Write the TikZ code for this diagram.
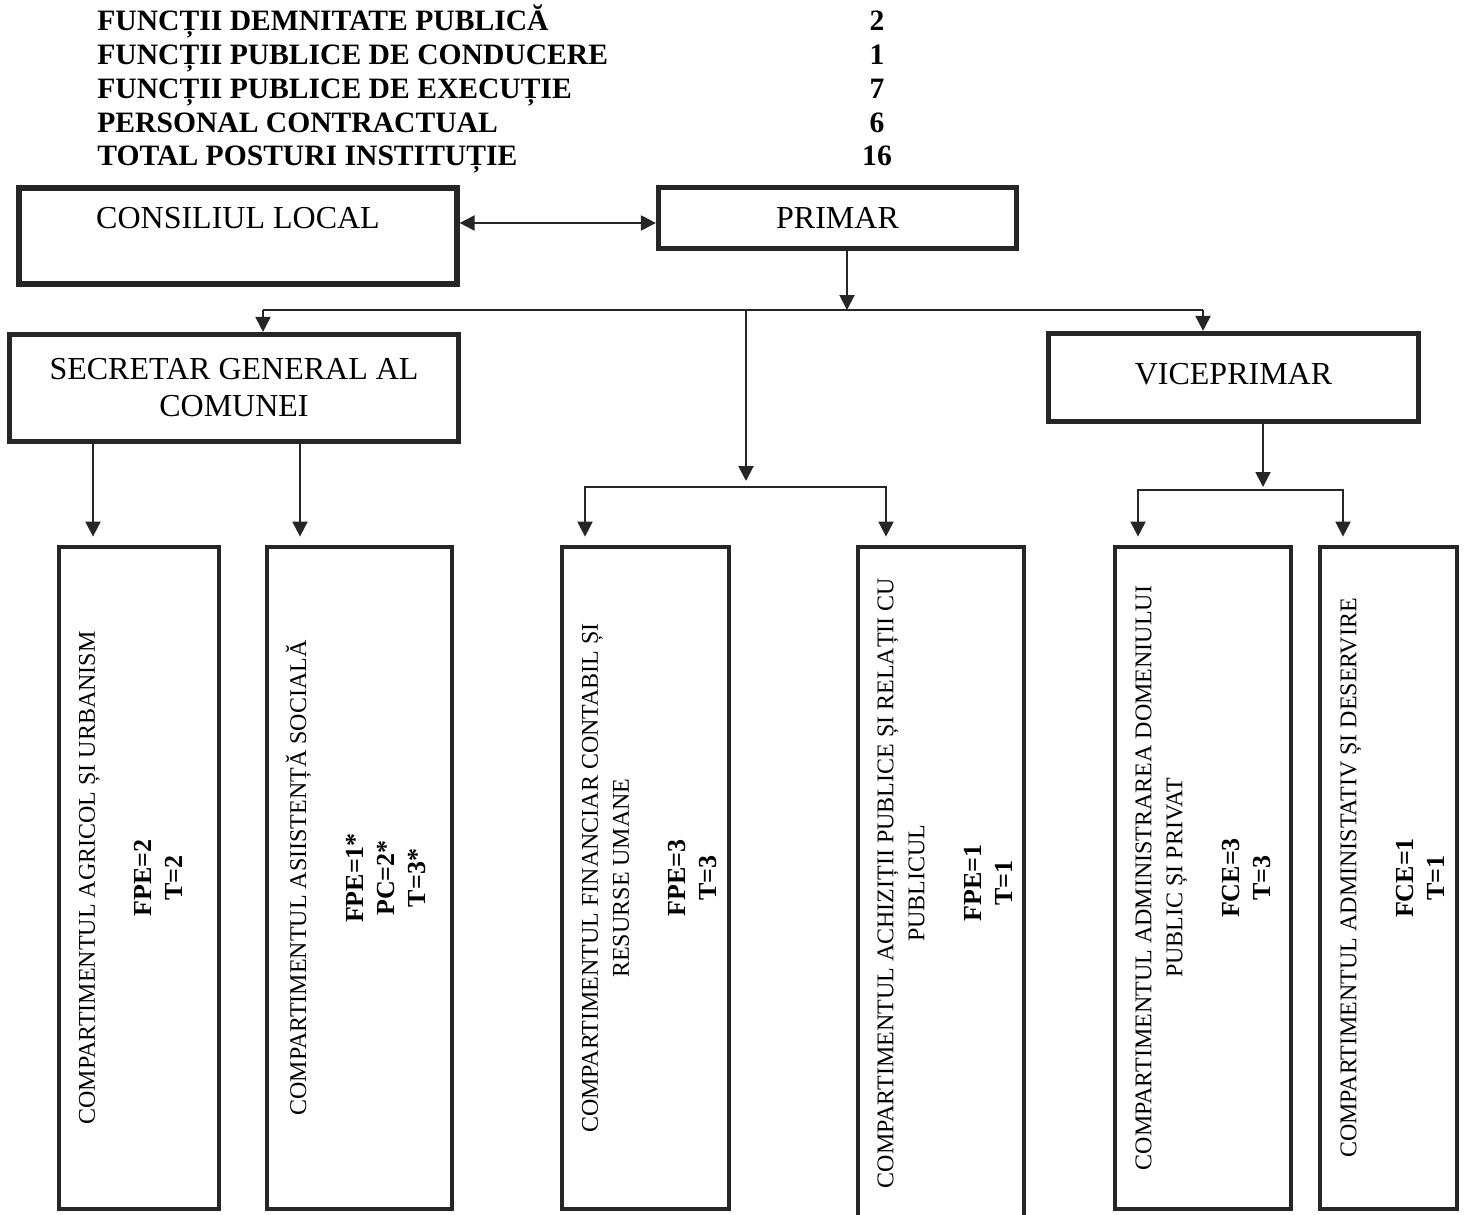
\documentclass[tikz,border=0pt]{standalone}
\usepackage{fontspec}
\setmainfont{Liberation Serif}
\usetikzlibrary{arrows.meta}

\newcommand{\valfont}{\fontsize{13}{15.5}\selectfont\bfseries}

\begin{document}
\begin{tikzpicture}
    [
        x=0.5pt, y=-0.5pt,
        >={Triangle[width=7.5pt,length=7.5pt]},
        conn/.style={draw=black!85, line width=1pt},
        conn short/.style={conn, shorten <=4pt, shorten >=4pt},
        top box/.style={draw=black!85, line width=2.6pt, inner sep=0pt,
            align=center, font=\fontsize{16}{18.5}\selectfont},
        comp box/.style={draw=black!85, line width=2.4pt, inner sep=0pt,
            minimum height=331pt},
        comp label/.style={rotate=90, align=center,
            font=\fontsize{12}{15.5}\selectfont},
        head row/.style={anchor=base west, inner sep=0pt,
            font=\fontsize{14.8}{17}\selectfont\bfseries},
        head num/.style={anchor=base, inner sep=0pt,
            font=\fontsize{14.8}{17}\selectfont\bfseries}
    ]
    \useasboundingbox (0,0) rectangle (1465,1214);

    % posts summary
    \foreach \lbl/\num [count=\i] in {%
        FUNCȚII DEMNITATE PUBLICĂ/2,
        FUNCȚII PUBLICE DE CONDUCERE/1,
        FUNCȚII PUBLICE DE EXECUȚIE/7,
        PERSONAL CONTRACTUAL/6,
        TOTAL POSTURI INSTITUȚIE/16}
    {
        \node[head row] (row\i) at (97,{31+33.75*(\i-1)}) {\lbl};
        \node[head num] (num\i) at (877,{31+33.75*(\i-1)}) {\num};
    }

    % upper level
    \node (consiliu) [top box, minimum width=219pt, minimum height=48pt]
        at (238,236) {CONSILIUL LOCAL\\ \mbox{}};
    \node (primar) [top box, minimum width=179pt, minimum height=30.5pt]
        at (837.5,218) {\raisebox{-1pt}{PRIMAR}};
    \node (secretar) [top box, minimum width=224.5pt, minimum height=53.5pt]
        at (234,388) {SECRETAR GENERAL AL\\COMUNEI};
    \node (viceprimar) [top box, minimum width=185pt, minimum height=44pt]
        at (1233.5,377.5) {\raisebox{3.5pt}{VICEPRIMAR}};

    % compartments
    \node (comp1) [comp box, minimum width=80pt]   at (139,878)    {};
    \node (comp2) [comp box, minimum width=92.5pt] at (359.5,878)  {};
    \node (comp3) [comp box, minimum width=83.5pt] at (645.5,878)  {};
    \node (comp4) [comp box, minimum width=83pt, minimum height=336pt]
        at (941,883) {};
    \node (comp5) [comp box, minimum width=88pt]   at (1203,878)   {};
    \node (comp6) [comp box, minimum width=68.5pt] at (1388.5,878) {};

    \node (comp1 text) [comp label] at ([xshift=-4pt]comp1.center)
        {COMPARTIMENTUL AGRICOL ȘI URBANISM\\[13pt]
         {\valfont FPE=2}\\{\valfont T=2}};
    \node (comp2 text) [comp label] at ([xshift=-2pt]comp2.center)
        {COMPARTIMENTUL ASIISTENȚĂ SOCIALĂ\\[13pt]
         {\valfont FPE=1*}\\{\valfont PC=2*}\\{\valfont T=3*}};
    \node (comp3 text) [comp label] at ([xshift=2pt]comp3.center)
        {COMPARTIMENTUL FINANCIAR CONTABIL ȘI\\RESURSE UMANE\\[13pt]
         {\valfont FPE=3}\\{\valfont T=3}};
    \node (comp4 text) [comp label] at ([xshift=2pt]comp4.center)
        {COMPARTIMENTUL ACHIZIȚII PUBLICE ȘI RELAȚII CU\\PUBLICUL\\[13pt]
         {\valfont FPE=1}\\{\valfont T=1}};
    \node (comp5 text) [comp label] at (comp5.center)
        {COMPARTIMENTUL ADMINISTRAREA DOMENIULUI\\PUBLIC ȘI PRIVAT\\[13pt]
         {\valfont FCE=3}\\{\valfont T=3}};
    \node (comp6 text) [comp label] at ([xshift=2pt]comp6.center)
        {COMPARTIMENTUL ADMINISTATIV ȘI DESERVIRE\\[13pt]
         {\valfont FCE=1}\\{\valfont T=1}};

    % junction points
    \coordinate (link)       at ([yshift=-2.5pt]primar.west);
    \coordinate (bus)        at (847,310);
    \coordinate (bus left)   at (263,310);
    \coordinate (bus right)  at (1203,310);
    \coordinate (bus mid)    at (746,310);
    \coordinate (fork fin)   at (746,487);
    \coordinate (fin left)   at (585,487);
    \coordinate (fin right)  at (886,487);
    \coordinate (fork vice)  at (1263,490);
    \coordinate (vice left)  at (1138,490);
    \coordinate (vice right) at (1343,490);
    \coordinate (sec left)   at (93,0);
    \coordinate (sec right)  at (300,0);

    \draw[conn, <->] (link -| consiliu.east) -- (link);
    \draw[conn, ->] (bus |- primar.south) -- (bus);
    \draw[conn] (bus left) -- (bus right);
    \draw[conn, ->] (bus left) -- (bus left |- secretar.north);
    \draw[conn, ->] (bus right) -- (bus right |- viceprimar.north);

    \draw[conn, ->, shorten >=3pt] (bus mid) -- (fork fin);
    \draw[conn short, <->] (fin left |- comp3.north) -- (fin left)
        -- (fin right) -- (fin right |- comp4.north);

    \draw[conn, ->, shorten >=1.5pt] (fork vice |- viceprimar.south) -- (fork vice);
    \draw[conn short, <->] (vice left |- comp5.north) -- (vice left)
        -- (vice right) -- (vice right |- comp6.north);

    \draw[conn, ->, shorten >=4pt] (sec left |- secretar.south) -- (sec left |- comp1.north);
    \draw[conn, ->, shorten >=4pt] (sec right |- secretar.south) -- (sec right |- comp2.north);

\end{tikzpicture}
\end{document}
